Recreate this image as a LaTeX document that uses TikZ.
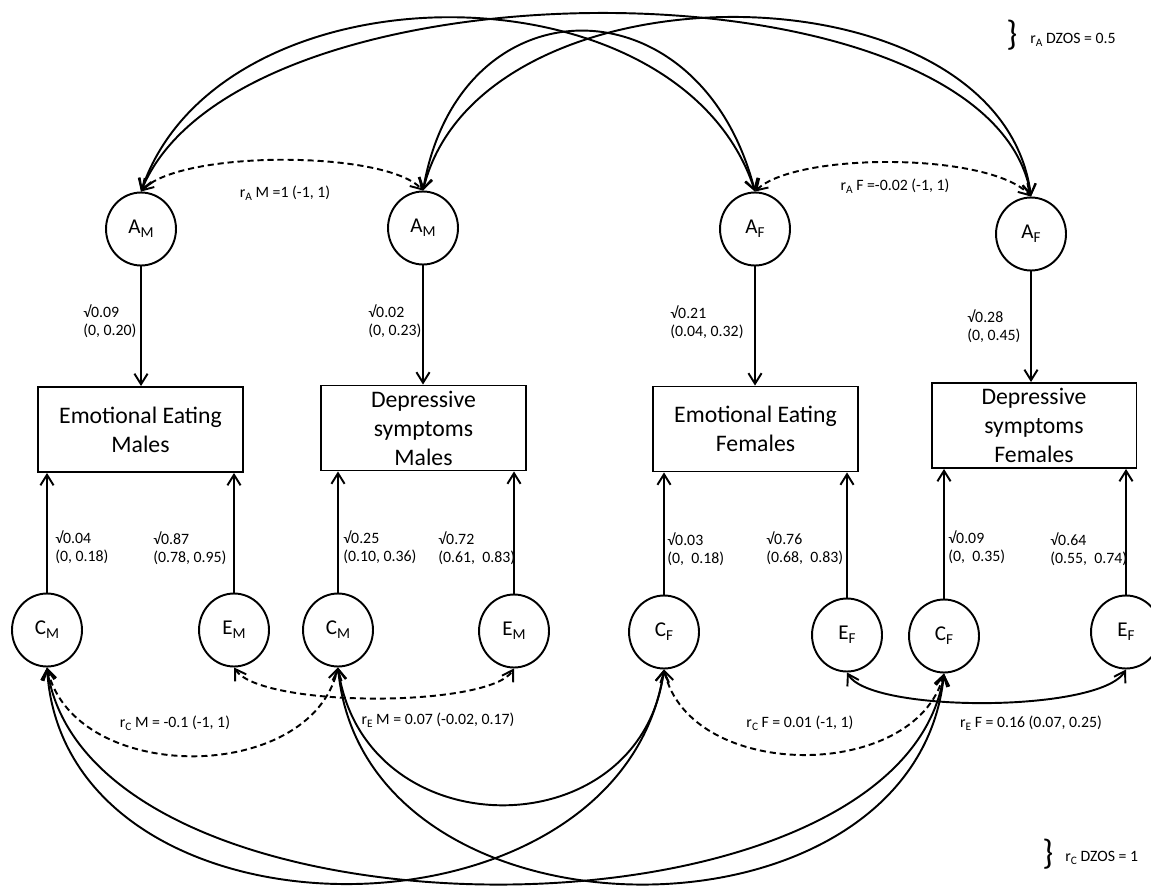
\documentclass[tikz,border=0pt]{standalone}
\usepackage{fontspec}
\setmainfont{Carlito}
\usetikzlibrary{arrows.meta,shapes.geometric}
\newcommand\lowsub[1]{\raisebox{-0.4ex}{\scalebox{0.72}{#1}}}
\begin{document}
\begin{tikzpicture}[x=0.02cm,y=-0.02cm,
  lat/.style={draw,ellipse,line width=1.1pt,minimum width=1.4cm,minimum height=1.46cm,inner sep=0pt,font=\fontsize{12}{13}\selectfont},
  obs/.style={draw,rectangle,line width=1.1pt,minimum width=4.1cm,minimum height=1.7cm,align=center,font=\fontsize{13.5}{16.5}\selectfont,inner sep=1pt},
  lab/.style={align=left,anchor=west,font=\fontsize{9}{10.5}\selectfont,inner sep=0pt},
  rlab/.style={font=\fontsize{9}{10.5}\selectfont,inner sep=0pt},
  conn/.style={line width=1.1pt,-{Straight Barb[length=6pt,width=7.5pt]}},
  cov/.style={line width=1.1pt,{Straight Barb[length=6pt,width=7.5pt]}-{Straight Barb[length=6pt,width=7.5pt]}},
  dcov/.style={cov,dash pattern=on 3.5pt off 2.2pt},
  brc/.style={font=\fontsize{20}{20}\selectfont,inner sep=0pt}
]
\useasboundingbox (0,0) rectangle (1151,885);

% latent nodes
\node[lat] (AM1) at (141,229) {A\lowsub{M}};
\node[lat] (AM2) at (423,228) {A\lowsub{M}};
\node[lat] (AF1) at (755,229) {A\lowsub{F}};
\node[lat] (AF2) at (1031,234) {A\lowsub{F}};

\node[lat] (CM1) at (47,630) {C\lowsub{M}};
\node[lat] (EM1) at (234,630) {E\lowsub{M}};
\node[lat] (CM2) at (338,630) {C\lowsub{M}};
\node[lat] (EM2) at (514,631) {E\lowsub{M}};
\node[lat] (CF1) at (664,632) {C\lowsub{F}};
\node[lat] (EF1) at (847,635) {E\lowsub{F}};
\node[lat] (CF2) at (944,636) {C\lowsub{F}};
\node[lat] (EF2) at (1126,632) {E\lowsub{F}};

% observed
\node[obs] (B1) at (140.5,429.5) {Emotional Eating\\Males};
\node[obs] (B2) at (423.5,428) {Depressive\\symptoms\\Males};
\node[obs] (B3) at (755.5,429) {Emotional Eating\\Females};
\node[obs] (B4) at (1034,425.5) {Depressive\\symptoms\\Females};

% paths A -> boxes
\draw[conn] (AM1.south) -- (AM1.south |- B1.north);
\draw[conn] (AM2.south) -- (AM2.south |- B2.north);
\draw[conn] (AF1.south) -- (AF1.south |- B3.north);
\draw[conn] (AF2.south) -- (AF2.south |- B4.north);

% paths C,E -> boxes
\draw[conn] (CM1.north) -- (CM1.north |- B1.south);
\draw[conn] (EM1.north) -- (EM1.north |- B1.south);
\draw[conn] (CM2.north) -- (CM2.north |- B2.south);
\draw[conn] (EM2.north) -- (EM2.north |- B2.south);
\draw[conn] (CF1.north) -- (CF1.north |- B3.south);
\draw[conn] (EF1.north) -- (EF1.north |- B3.south);
\draw[conn] (CF2.north) -- (CF2.north |- B4.south);
\draw[conn] (EF2.north) -- (EF2.north |- B4.south);

% path labels
\node[lab] (p1) at (83,321) {√0.09\\(0, 0.20)};
\node[lab] (p2) at (368,321) {√0.02\\(0, 0.23)};
\node[lab] (p3) at (670,322) {√0.21\\(0.04, 0.32)};
\node[lab] (p4) at (967,326) {√0.28\\(0, 0.45)};
\node[lab] (p5) at (55,547) {√0.04\\(0, 0.18)};
\node[lab] (p6) at (153,548) {√0.87\\(0.78, 0.95)};
\node[lab] (p7) at (343,547) {√0.25\\(0.10, 0.36)};
\node[lab] (p8) at (438,548) {√0.72\\(0.61,\ \ 0.83)};
\node[lab] (p9) at (667,549) {√0.03\\(0,\ \ 0.18)};
\node[lab] (p10) at (766,548) {√0.76\\(0.68,\ \ 0.83)};
\node[lab] (p11) at (948,547) {√0.09\\(0,\ \ 0.35)};
\node[lab] (p12) at (1050,549) {√0.64\\(0.55,\ \ 0.74)};

% top covariances (DZOS A)
\draw[cov] (AM1.north) .. controls (220,-40) and (680,-40) .. (AF1.north);
\draw[cov] (AM1.north) .. controls (240,-48) and (990,-45) .. (AF2.north);
\draw[cov] (AM2.north) .. controls (460,-22) and (700,-22) .. (AF1.north);
\draw[cov] (AM2.north) .. controls (480,-42) and (1000,-40) .. (AF2.north);

% within-sex A correlations
\draw[dcov] (AM1.north) .. controls (180,150) and (385,150) .. (AM2.north);
\draw[dcov] (AF1.north) .. controls (795,152) and (990,152) .. (AF2.north);

% C and E correlations
\draw[dcov] (CM1.south) .. controls (75,785) and (310,785) .. (CM2.south);
\draw[dcov] (EM1.south) .. controls (260,708) and (490,708) .. (EM2.south);
\draw[dcov] (CF1.south) .. controls (690,782) and (915,782) .. (CF2.south);
\draw[cov] (EF1.south) .. controls (870,713) and (1100,713) .. (EF2.south);

% bottom covariances (DZOS C)
\draw[cov] (CM2.south) .. controls (365,850) and (640,850) .. (CF1.south);
\draw[cov] (CM1.south) .. controls (65,955) and (620,955) .. (CF1.south);
\draw[cov] (CM1.south) .. controls (90,955) and (900,955) .. (CF2.south);
\draw[cov] (CM2.south) .. controls (365,955) and (915,955) .. (CF2.south);

% correlation labels
\node[rlab] (rAM) at (285,193) {r\lowsub{A} M =1 (-1, 1)};
\node[rlab] (rAF) at (895,186) {r\lowsub{A} F =-0.02 (-1, 1)};
\node[rlab] (rCM) at (175,723) {r\lowsub{C} M = -0.1 (-1, 1)};
\node[rlab] (rEM) at (438,720) {r\lowsub{E} M = 0.07 (-0.02, 0.17)};
\node[rlab] (rCF) at (800,723) {r\lowsub{C} F = 0.01 (-1, 1)};
\node[rlab] (rEF) at (1031,723) {r\lowsub{E} F = 0.16 (0.07, 0.25)};

% braces
\node[brc] (br1) at (1012,35) {\}};
\node[rlab,anchor=west] (dzA) at (1030,40) {r\lowsub{A} DZOS = 0.5};
\node[brc] (br2) at (1048,854) {\}};
\node[rlab,anchor=west] (dzC) at (1065,858) {r\lowsub{C} DZOS = 1};
\end{tikzpicture}
\end{document}
